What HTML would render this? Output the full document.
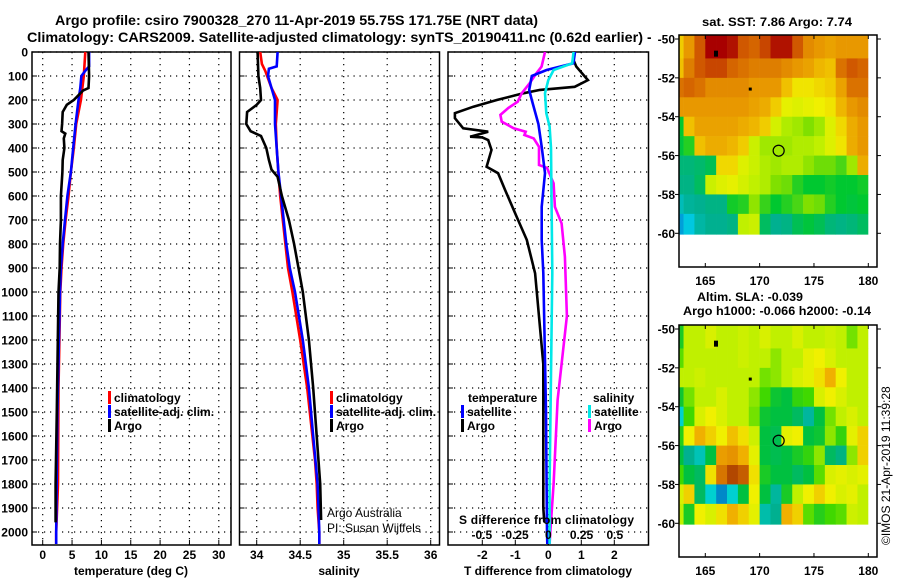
<!DOCTYPE html>
<html><head><meta charset="utf-8">
<style>
html,body{margin:0;padding:0;background:#fff;}
svg{display:block;font-family:"Liberation Sans",sans-serif;}
.b{font-weight:bold;font-size:12px;}
</style></head>
<body>
<svg id="c" width="900" height="580" viewBox="0 0 900 580" xmlns="http://www.w3.org/2000/svg">
<rect width="900" height="580" fill="#fff"/>
<text x="55" y="25" class="b" style="font-size:13.5px" textLength="483" lengthAdjust="spacingAndGlyphs">Argo profile: csiro 7900328_270 11-Apr-2019 55.75S 171.75E (NRT data)</text>
<text x="27" y="42" class="b" style="font-size:13.5px" textLength="616" lengthAdjust="spacingAndGlyphs">Climatology: CARS2009. Satellite-adjusted climatology: synTS_20190411.nc (0.62d earlier)</text>
<text x="647" y="42" class="b" style="font-size:13.5px">-</text>
<g id="g"></g>
</svg>
<script>
// ---- profile data ----
const tClimDepth=[0,100,200,300,400,500,600,700,800,900,1000,1400,1800,2000,2050];
const tClimVal=[7.26,7.0,6.5,5.7,5.3,4.8,4.4,3.9,3.5,3.2,3.0,2.7,2.6,2.3,2.3];
const tSatDepth=[0,60,80,100,150,200,300,400,500,600,700,800,900,1000,1500,2000,2050];
const tSatVal=[7.9,7.9,7.2,6.6,6.4,6.1,5.6,5.2,4.8,4.2,3.8,3.4,3.1,2.95,2.5,2.3,2.3];
const tArgoDepth=[0,100,150,160,180,200,220,250,300,330,340,360,400,450,500,600,700,800,900,1000,1500,1800,1960];
const tArgoVal=[7.8,7.9,7.8,6.9,6.1,5.3,4.1,3.4,3.3,3.2,3.85,3.6,3.7,3.4,3.35,3.1,3.1,2.95,2.9,2.7,2.4,2.2,2.2];
const sClimDepth=[0,50,80,100,150,200,300,400,500,600,700,800,900,1000,1200,1400,1500,1600,1700,1800,1900,2000,2050];
const sClimVal=[34.04,34.06,34.1,34.12,34.17,34.24,34.22,34.23,34.25,34.27,34.3,34.33,34.36,34.41,34.5,34.58,34.61,34.64,34.67,34.69,34.7,34.72,34.72];
const sSatDepth=[0,60,70,100,150,200,300,400,500,600,700,800,900,1000,1200,1400,1600,1800,2000,2050];
const sSatVal=[34.24,34.23,34.14,34.13,34.17,34.21,34.21,34.23,34.25,34.28,34.31,34.34,34.38,34.44,34.53,34.6,34.65,34.7,34.72,34.72];
const sArgoDepth=[0,100,150,200,220,250,300,330,350,400,450,490,520,600,700,800,900,1000,1200,1400,1600,1800,1950];
const sArgoVal=[34.01,34.02,34.04,34.05,34.0,33.89,33.88,33.93,34.05,34.11,34.14,34.17,34.24,34.29,34.37,34.43,34.48,34.53,34.6,34.65,34.69,34.73,34.74];
const dTSatDepth=[0,47,75,100,158,200,300,395,505,645,783,920,1500,2000,2050];
const dTSatVal=[0.81,0.76,-0.05,-0.5,-0.58,-0.5,-0.3,-0.2,-0.1,-0.2,-0.2,-0.15,-0.07,-0.04,-0.03];
const dTArgoDepth=[33,61,117,145,158,172,200,228,255,276,318,332,353,356,367,408,478,505,575,686,783,922,1300,1900,1960];
const dTArgoVal=[0.76,0.85,1.2,0.8,-0.25,-0.76,-1.56,-2.27,-2.83,-2.83,-2.58,-1.82,-2.37,-2.0,-1.82,-1.72,-1.87,-1.52,-1.31,-0.96,-0.65,-0.4,-0.15,-0.15,-0.12];
const dSSatDepth=[0,47,75,117,172,255,311,400,920,1800,2050];
const dSSatVal=[0.19,0.18,0.04,0,-0.025,-0.015,0.01,0.02,0.03,0.01,0.01];
const dSArgoDepth=[0,61,89,130,172,207,233,262,290,318,332,346,360,395,471,483,547,645,714,853,1100,1450,1800,2000,2050];
const dSArgoVal=[-0.025,-0.05,-0.09,-0.14,-0.2,-0.23,-0.3,-0.36,-0.35,-0.26,-0.17,-0.18,-0.11,-0.07,-0.07,-0.01,0.04,0.05,0.1,0.125,0.14,0.07,0.04,0.015,0.01];
const depthTicks=[0,100,200,300,400,500,600,700,800,900,1000,1100,1200,1300,1400,1500,1600,1700,1800,1900,2000];
const tTicks=[0,5,10,15,20,25,30];
const sTicks=[34,34.5,35,35.5,36];
const sTickLabels=["34","34.5","35","35.5","36"];
const dTTicks=[-2,-1,0,1,2];
const dSTicks=[-0.5,-0.25,0,0.25,0.5];
const dSTickLabels=["-0.5","-0.25","0","0.25","0.5"];
// ---- map data (1 deg cells, lon 162..180, lat -50..-60) ----
const mapLon0=162;
const mapLatTicks=[-50,-52,-54,-56,-58,-60];
const mapLonTicks=[165,170,175,180];
const sstRow0=[8.5,9.0,9.5,10,10,9.9,9.5,9.4,9.6,9.9,9.9,9.5,9.1,9.0,8.9,9.0,9.0,9.0];
const sstRow1=[8.6,9.2,9.5,9.6,9.6,9.4,9.3,9.2,9.2,9.2,9.1,9.0,8.9,8.7,8.6,9.3,9.5,9.4];
const sstRow2=[9.3,9.4,9.3,9.1,9.1,9.1,9.1,9.0,9.0,9.0,8.6,8.3,8.3,8.4,8.5,8.9,9.3,9.3];
const sstRow3=[9.0,9.0,9.0,9.0,9.0,9.0,9.0,8.9,8.8,8.5,8.1,8.0,8.1,8.2,8.3,8.7,9.0,9.1];
const sstRow4=[6.6,8.6,8.9,8.9,8.9,8.9,8.8,8.7,8.5,7.9,7.6,7.5,7.3,7.5,8.0,8.4,8.8,9.0];
const sstRow5=[6.5,6.8,8.6,8.8,8.8,8.7,8.5,7.8,7.5,7.5,7.5,7.6,7.6,7.7,8.0,8.3,8.8,9.0];
const sstRow6=[6.0,6.0,6.1,6.3,8.4,8.4,8.0,7.8,7.6,7.5,7.6,7.6,7.4,7.2,7.2,7.0,7.5,8.8];
const sstRow7=[5.9,5.9,6.2,7.8,8.0,8.1,7.9,7.7,7.6,7.3,7.2,6.8,6.6,6.6,6.7,6.6,6.6,6.7];
const sstRow8=[5.4,5.7,5.8,5.9,5.9,6.7,6.8,7.4,6.9,6.6,6.8,7.0,7.3,7.2,6.8,6.6,6.5,6.6];
const sstRow9=[4.8,5.0,5.6,5.8,5.8,5.9,7.7,7.8,6.2,5.8,5.9,6.3,6.5,6.3,6.0,5.9,6.0,6.2];
const slaRow0=[-0.08,0.0,0.0,0.02,0.0,0.0,0.01,0.0,0.02,0.0,0.0,0.02,0.0,0.0,0.01,0.0,-0.03,0.0];
const slaRow1=[-0.04,0.0,0.0,0.0,0.0,0.0,0.01,0.0,0.0,-0.02,0.0,0.0,0.03,0.04,0.02,0.0,0.0,0.0];
const slaRow2=[0.0,0.0,0.01,0.0,0.0,0.0,0.0,0.0,-0.03,-0.02,0.0,0.02,0.03,0.05,0.08,0.04,0.0,0.0];
const slaRow3=[-0.09,-0.03,0.0,0.0,0.02,0.0,0.0,-0.02,-0.05,-0.09,-0.1,-0.06,-0.05,0.02,0.04,0.02,0.0,0.0];
const slaRow4=[-0.2,-0.05,0.02,0.04,0.02,0.0,0.0,-0.03,-0.09,-0.1,-0.1,-0.12,-0.16,-0.1,-0.03,0.0,0.02,0.0];
const slaRow5=[-0.07,0.04,0.08,0.06,0.04,0.07,0.05,0.01,-0.1,-0.11,0.03,0.04,-0.1,-0.09,-0.02,-0.06,0.03,0.06];
const slaRow6=[-0.1,-0.15,-0.18,-0.1,0.1,0.11,0.08,0.03,-0.1,-0.11,-0.1,-0.08,-0.06,-0.02,-0.12,-0.14,-0.02,0.06];
const slaRow7=[-0.05,-0.1,-0.12,0.05,0.14,0.18,0.16,0.05,-0.08,-0.1,-0.1,-0.12,-0.1,-0.04,0.02,0.03,0.02,0.03];
const slaRow8=[0.02,0.06,-0.12,-0.2,-0.25,-0.2,-0.1,0.04,-0.1,-0.16,-0.08,0.0,0.04,0.06,0.04,0.02,0.03,0.0];
const slaRow9=[0.0,-0.08,0.04,0.02,0.05,0.08,0.06,0.03,-0.17,-0.15,0.08,0.06,-0.04,-0.07,-0.05,-0.04,0.01,0.0];
const profLon=171.75, profLat=-55.75;

const NS="http://www.w3.org/2000/svg";
const G=document.getElementById('g');
function mk(tag,attrs,parent){const e=document.createElementNS(NS,tag);for(const k in attrs)e.setAttribute(k,attrs[k]);(parent||G).appendChild(e);return e;}
function txt(x,y,s,anchor,cls,parent){const e=mk('text',{x:x,y:y,'text-anchor':anchor||'start','class':cls||'b'},parent);e.textContent=s;return e;}

const TOP=52, BOT=545;
const yD=d=>TOP+d*0.24;
const xT=v=>42.7+v*5.87;
const xS=v=>256.7+(v-34)*87;
const xDT=v=>548.3+v*33;
const xDS=v=>548.3+v*133;

function panel(name,x0,x1,vx){
  const g=mk('g',{});
  
  
  depthTicks.forEach(d=>{const l=mk('line',{x1:x0,x2:x1,y1:yD(d),y2:yD(d),stroke:'#000','stroke-width':1.2,'stroke-dasharray':'1.2 4.8'},g);
    
    mk('line',{x1:x0,x2:x0+5,y1:yD(d),y2:yD(d),stroke:'#000','stroke-width':1},g);});
  vx.forEach(x=>{const l=mk('line',{x1:x,x2:x,y1:TOP,y2:BOT,stroke:'#000','stroke-width':1.2,'stroke-dasharray':'1.2 4.8'},g);
    
    mk('line',{x1:x,x2:x,y1:BOT,y2:BOT-5,stroke:'#000','stroke-width':1},g);});
  const r=mk('rect',{x:x0,y:TOP,width:x1-x0,height:BOT-TOP,fill:'none',stroke:'#000','stroke-width':1.5},g);
  
  return g;
}
function series(g,name,ds,vs,xf,color){
  const pts=ds.map((d,i)=>xf(vs[i]).toFixed(1)+','+yD(d).toFixed(1)).join(' ');
  const p=mk('polyline',{points:pts,fill:'none',stroke:color,'stroke-width':2.6,'stroke-linejoin':'miter'},g);
  
  
}
function legendRow(g,x,y,color,label){
  mk('rect',{x:x,y:y-11,width:3,height:13,fill:color},g);
  const t=txt(x+6,y,label,'start','b',g);
  
  
}

depthTicks.forEach(d=>{const t=txt(28,yD(d)+4.5,String(d),'end');});

const p1=panel('temperature-panel',32,231,tTicks.map(xT));
series(p1,'temp-climatology-line',tClimDepth,tClimVal,xT,'#ff0000');
series(p1,'temp-satellite-line',tSatDepth,tSatVal,xT,'#0000ff');
series(p1,'temp-argo-line',tArgoDepth,tArgoVal,xT,'#000000');
tTicks.forEach(v=>{const t=txt(xT(v),559,String(v),'middle');});
{const t=txt(131,575,'temperature (deg C)','middle');}
legendRow(p1,108,402,'#ff0000','climatology');
legendRow(p1,108,416,'#0000ff','satellite-adj. clim.');
legendRow(p1,108,430,'#000000','Argo');

const p2=panel('salinity-panel',239.5,439.5,sTicks.map(xS));
series(p2,'sal-climatology-line',sClimDepth,sClimVal,xS,'#ff0000');
series(p2,'sal-satellite-line',sSatDepth,sSatVal,xS,'#0000ff');
series(p2,'sal-argo-line',sArgoDepth,sArgoVal,xS,'#000000');
sTicks.forEach((v,i)=>{const t=txt(xS(v),559,sTickLabels[i],'middle');});
{const t=txt(339,575,'salinity','middle');}
legendRow(p2,330,402,'#ff0000','climatology');
legendRow(p2,330,416,'#0000ff','satellite-adj. clim.');
legendRow(p2,330,430,'#000000','Argo');
{const t=mk('text',{x:327,y:517,'font-size':'12px'},p2);t.textContent='Argo Australia';
 const t2=mk('text',{x:327,y:532,'font-size':'12px'},p2);t2.textContent='PI: Susan Wijffels';}

const p3=panel('difference-panel',448,648.5,dTTicks.map(xDT));
series(p3,'dT-argo-line',dTArgoDepth,dTArgoVal,xDT,'#000000');
series(p3,'dS-argo-line',dSArgoDepth,dSArgoVal,xDS,'#ff00ff');
series(p3,'dT-satellite-line',dTSatDepth,dTSatVal,xDT,'#0000ff');
series(p3,'dS-satellite-line',dSSatDepth,dSSatVal,xDS,'#00e8e8');
{const t=txt(468,402,'temperature','start','b',p3);
 const t2=txt(593,402,'salinity','start','b',p3);}
legendRow(p3,461,416,'#0000ff','satellite');
legendRow(p3,461,430,'#000000','Argo');
legendRow(p3,588,416,'#00e8e8','satellite');
legendRow(p3,588,430,'#ff00ff','Argo');
{const t=txt(459,524,'S difference from climatology','start','b',p3);t.setAttribute('textLength','175');}
dSTicks.forEach((v,i)=>{const t=txt(xDS(v),539,dSTickLabels[i],'middle','b',p3);});
dTTicks.forEach(v=>{const t=txt(xDT(v),559,String(v),'middle');});
{const t=txt(548,575,'T difference from climatology','middle');}

const sstStops=[[4,[0,0,190]],[5,[0,200,224]],[5.8,[0,176,144]],[6.6,[0,200,48]],[7.3,[128,224,0]],[7.7,[192,240,0]],[8.2,[240,240,0]],[8.6,[240,192,0]],[9.0,[232,152,0]],[9.5,[208,88,0]],[10,[168,0,0]]];
const slaStops=[[-0.3,[0,64,192]],[-0.2,[0,208,208]],[-0.15,[0,176,144]],[-0.1,[0,192,64]],[-0.05,[64,216,0]],[0,[192,240,0]],[0.04,[240,240,0]],[0.08,[240,176,0]],[0.13,[224,128,0]],[0.2,[160,48,0]]];
function interpC(stops,v){
  if(v<=stops[0][0])return 'rgb('+stops[0][1].join(',')+')';
  for(let i=1;i<stops.length;i++){if(v<=stops[i][0]){const a=stops[i-1],b=stops[i],f=(v-a[0])/(b[0]-a[0]);
    return 'rgb('+[0,1,2].map(k=>Math.round(a[1][k]+(b[1][k]-a[1][k])*f)).join(',')+')';}}
  return 'rgb('+stops[stops.length-1][1].join(',')+')';
}
function drawMap(name,top,rows,stops,t1){
  const X0=679,X1=877,BOTM=top+232;
  const xL=lon=>705.3+(lon-165)*10.867;
  const yL=lat=>top+4+(-50-lat)*19.43;
  const g=mk('g',{});
  
  
  const cid=name+'-clip';
  const cp=mk('clipPath',{id:cid},g);
  mk('rect',{x:X0,y:top,width:xL(180)-X0,height:yL(-60.07)-top},cp);
  const cg=mk('g',{'clip-path':'url(#'+cid+')'},g);
  rows.forEach((row,r)=>{row.forEach((v,c)=>{
    const x=xL(mapLon0+c), y=yL(-50-r)-(r===0?10:0), y2=yL(-51-r)+(r===rows.length-1?2:0);
    const cell=mk('rect',{x:x.toFixed(2),y:y.toFixed(2),width:(xL(mapLon0+c+1)-x+0.3).toFixed(2),height:(y2-y+0.3).toFixed(2),fill:interpC(stops,v)},cg);
    
    
  });});
  mk('rect',{x:xL(165.8),y:yL(-50.6),width:4,height:6,fill:'#000'},g);
  mk('rect',{x:xL(169),y:yL(-52.5),width:3,height:3,fill:'#000'},g);
  const c=mk('circle',{cx:xL(profLon),cy:yL(profLat),r:5.5,fill:'none',stroke:'#000','stroke-width':1.2},g);
  
  const fr=mk('rect',{x:X0,y:top,width:X1-X0,height:BOTM-top,fill:'none',stroke:'#000','stroke-width':1.5},g);
  
  mapLatTicks.forEach(lat=>{
    mk('line',{x1:X0-4,x2:X0,y1:yL(lat),y2:yL(lat),stroke:'#000'},g);
    mk('line',{x1:X1,x2:X1+4,y1:yL(lat),y2:yL(lat),stroke:'#000'},g);
    const t=txt(675,yL(lat)+4.5,String(lat),'end','b',g);});
  mapLonTicks.forEach(lon=>{
    mk('line',{x1:xL(lon),x2:xL(lon),y1:top,y2:top+4,stroke:'#000'},g);
    mk('line',{x1:xL(lon),x2:xL(lon),y1:BOTM,y2:BOTM-4,stroke:'#000'},g);
    const t=txt(xL(lon),BOTM+18,String(lon),'middle','b',g);});
  t1.forEach(o=>{const t=txt(o[0],o[1],o[2],'start','b',g);t.setAttribute('textLength',o[3]);t.setAttribute('lengthAdjust','spacingAndGlyphs');});
}
drawMap('sst-map',35,[sstRow0,sstRow1,sstRow2,sstRow3,sstRow4,sstRow5,sstRow6,sstRow7,sstRow8,sstRow9],sstStops,[[702,26,'sat. SST: 7.86 Argo: 7.74',150]]);
drawMap('sla-map',325,[slaRow0,slaRow1,slaRow2,slaRow3,slaRow4,slaRow5,slaRow6,slaRow7,slaRow8,slaRow9],slaStops,[[697,301,'Altim. SLA: -0.039',106],[683,315,'Argo h1000: -0.066 h2000: -0.14',188]]);
{const t=mk('text',{x:0,y:0,'font-size':'12px',transform:'translate(890,545) rotate(-90)'});t.textContent='©IMOS 21-Apr-2019 11:39:28';}
</script>
</body></html>
